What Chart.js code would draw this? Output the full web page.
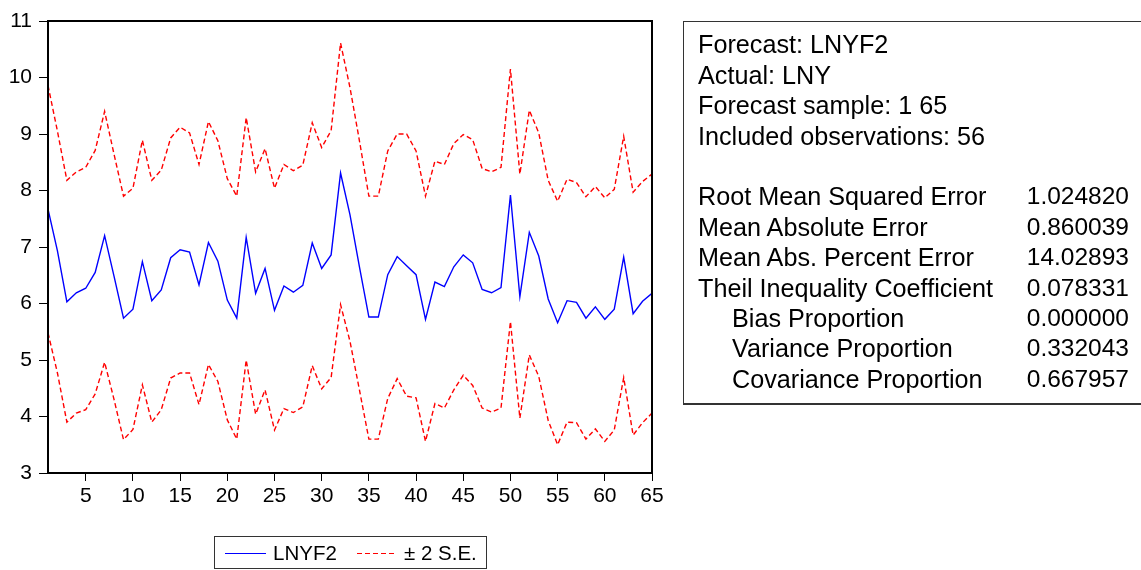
<!DOCTYPE html>
<html>
<head>
<meta charset="utf-8">
<script src="https://cdn.jsdelivr.net/npm/chart.js@4.4.1/dist/chart.umd.min.js"></script>
<style>
  html, body { margin: 0; padding: 0; background: #fff; }
  body { width: 1141px; height: 570px; position: relative; overflow: hidden;
         font-family: 'Liberation Sans', Arial, sans-serif; color: #000; }
  #wrap { position: absolute; left: 0; top: 0; width: 1141px; height: 570px; }
  #stats { position: absolute; left: 683px; top: 21px; width: 520px; height: 381px;
           border: 1px solid #333; border-bottom-width: 2px; box-sizing: content-box; }
  .row { position: absolute; left: 0; height: 30.4px; line-height: 30.4px; white-space: nowrap; }
  .lab { position: absolute; left: 14px; font-size: 25.2px; }
  .lab.ind { left: 48px; }
  .val { position: absolute; left: 0; width: 445px; text-align: right; font-size: 24.5px; }
  #legend { position: absolute; left: 214px; top: 536px; width: 271px; height: 31px;
            border: 1px solid #333; font-size: 20.5px; }
  #legend .t { position: absolute; top: 0; line-height: 31px; white-space: nowrap; }
  #legend svg { position: absolute; left: 0; top: 0; }
</style>
</head>
<body>
<div id="wrap"><canvas id="c" width="1141" height="570"></canvas></div>
<div id="stats"></div>
<div id="legend">
  <svg width="271" height="31">
    <line x1="10" y1="16.5" x2="51" y2="16.5" stroke="#0000ff" stroke-width="1"/>
    <line x1="142" y1="16.5" x2="180" y2="16.5" stroke="#ff0000" stroke-width="1" stroke-dasharray="5,3"/>
  </svg>
  <span class="t" style="left:58px">LNYF2</span>
  <span class="t" style="left:189px">± 2 S.E.</span>
</div>
<script>
const obs = [1,2,3,4,5,6,7,8,9,10,11,12,13,14,15,16,17,18,19,20,21,22,23,24,25,26,27,28,29,30,31,32,33,34,35,36,37,38,39,40,41,42,43,44,45,46,47,48,49,50,51,52,53,54,55,56,57,58,59,60,61,62,63,64,65];
const lnyf2 = [7.67,6.93,6.03,6.19,6.27,6.55,7.20,6.48,5.74,5.90,6.74,6.05,6.24,6.81,6.95,6.91,6.33,7.08,6.75,6.06,5.74,7.17,6.18,6.62,5.88,6.31,6.20,6.32,7.07,6.62,6.86,8.31,7.57,6.65,5.76,5.76,6.51,6.83,6.67,6.51,5.72,6.38,6.30,6.65,6.86,6.72,6.25,6.19,6.28,7.92,6.12,7.26,6.84,6.08,5.66,6.05,6.02,5.74,5.94,5.72,5.90,6.82,5.82,6.04,6.18];
const upperSE = [9.86,9.05,8.18,8.33,8.41,8.71,9.40,8.64,7.90,8.04,8.89,8.18,8.36,8.93,9.12,9.02,8.46,9.22,8.88,8.21,7.90,9.29,8.33,8.74,8.04,8.46,8.35,8.45,9.20,8.76,9.06,10.61,9.82,8.88,7.90,7.90,8.70,9.00,9.00,8.70,7.90,8.52,8.46,8.83,8.99,8.90,8.39,8.33,8.41,10.15,8.29,9.42,9.02,8.18,7.81,8.20,8.14,7.89,8.07,7.87,8.02,8.96,7.97,8.16,8.29];
const lowerSE = [5.48,4.77,3.90,4.06,4.12,4.40,4.96,4.30,3.59,3.77,4.56,3.90,4.12,4.68,4.77,4.77,4.21,4.92,4.62,3.94,3.60,5.00,4.04,4.47,3.76,4.14,4.07,4.17,4.90,4.49,4.69,5.98,5.33,4.47,3.60,3.60,4.32,4.67,4.36,4.33,3.56,4.23,4.15,4.47,4.73,4.55,4.15,4.08,4.15,5.68,3.97,5.09,4.71,3.93,3.50,3.90,3.89,3.60,3.78,3.56,3.76,4.69,3.67,3.89,4.06];
const xTickValues = [5,10,15,20,25,30,35,40,45,50,55,60,65];
const yTickValues = [3,4,5,6,7,8,9,10,11];
const statLines = [
  ["Forecast: LNYF2", "", false],
  ["Actual: LNY", "", false],
  ["Forecast sample: 1 65", "", false],
  ["Included observations: 56", "", false],
  ["", "", false],
  ["Root Mean Squared Error", "1.024820", false],
  ["Mean Absolute Error", "0.860039", false],
  ["Mean Abs. Percent Error", "14.02893", false],
  ["Theil Inequality Coefficient", "0.078331", false],
  ["Bias Proportion", "0.000000", true],
  ["Variance Proportion", "0.332043", true],
  ["Covariance Proportion", "0.667957", true]
];

// stats box text
const stats = document.getElementById('stats');
statLines.forEach((r, i) => {
  const d = document.createElement('div');
  d.className = 'row';
  d.style.top = (7.3 + i * 30.4) + 'px';
  const l = document.createElement('span');
  l.className = 'lab' + (r[2] ? ' ind' : '');
  l.textContent = r[0];
  const v = document.createElement('span');
  v.className = 'val';
  v.textContent = r[1];
  d.appendChild(l); d.appendChild(v);
  stats.appendChild(d);
});

const toPts = arr => arr.map((v, i) => ({ x: obs[i], y: v }));

const framePlugin = {
  id: 'frame',
  afterDatasetsDraw(chart) {
    const a = chart.chartArea, ctx = chart.ctx;
    ctx.save();
    ctx.strokeStyle = '#000';
    ctx.lineWidth = 2;
    ctx.strokeRect(a.left, a.top, a.right - a.left, a.bottom - a.top);
    ctx.restore();
  }
};

Chart.defaults.font.family = "'Liberation Sans', Arial, sans-serif";
Chart.defaults.color = '#000';

new Chart(document.getElementById('c'), {
  type: 'line',
  data: {
    datasets: [
      { label: 'LNYF2', data: toPts(lnyf2), borderColor: '#0000ff', borderWidth: 1.4, pointRadius: 0, fill: false, tension: 0 },
      { label: '± 2 S.E.', data: toPts(upperSE), borderColor: '#ff0000', borderWidth: 1.4, borderDash: [5, 3], pointRadius: 0, fill: false, tension: 0 },
      { label: '± 2 S.E. (lower)', data: toPts(lowerSE), borderColor: '#ff0000', borderWidth: 1.4, borderDash: [5, 3], pointRadius: 0, fill: false, tension: 0 }
    ]
  },
  options: {
    responsive: false,
    animation: false,
    layout: { padding: { left: 0, top: 21, right: 489, bottom: 50 } },
    plugins: { legend: { display: false }, tooltip: { enabled: false } },
    scales: {
      x: {
        type: 'linear', min: 1, max: 65,
        afterBuildTicks: s => { s.ticks = xTickValues.map(v => ({ value: v })); },
        afterFit: s => { s.height = 47; },
        border: { display: false },
        grid: { drawOnChartArea: false, drawTicks: true, tickLength: 8, color: '#000', lineWidth: 1 },
        ticks: { font: { size: 21 }, color: '#000', padding: 3, maxRotation: 0, autoSkip: false }
      },
      y: {
        min: 3, max: 11,
        afterBuildTicks: s => { s.ticks = yTickValues.map(v => ({ value: v })); },
        afterFit: s => { s.width = 48; },
        border: { display: false },
        grid: { drawOnChartArea: false, drawTicks: true, tickLength: 9, color: '#000', lineWidth: 1 },
        ticks: { font: { size: 21 }, color: '#000', padding: 7, autoSkip: false }
      }
    }
  },
  plugins: [framePlugin]
});
</script>
</body>
</html>
